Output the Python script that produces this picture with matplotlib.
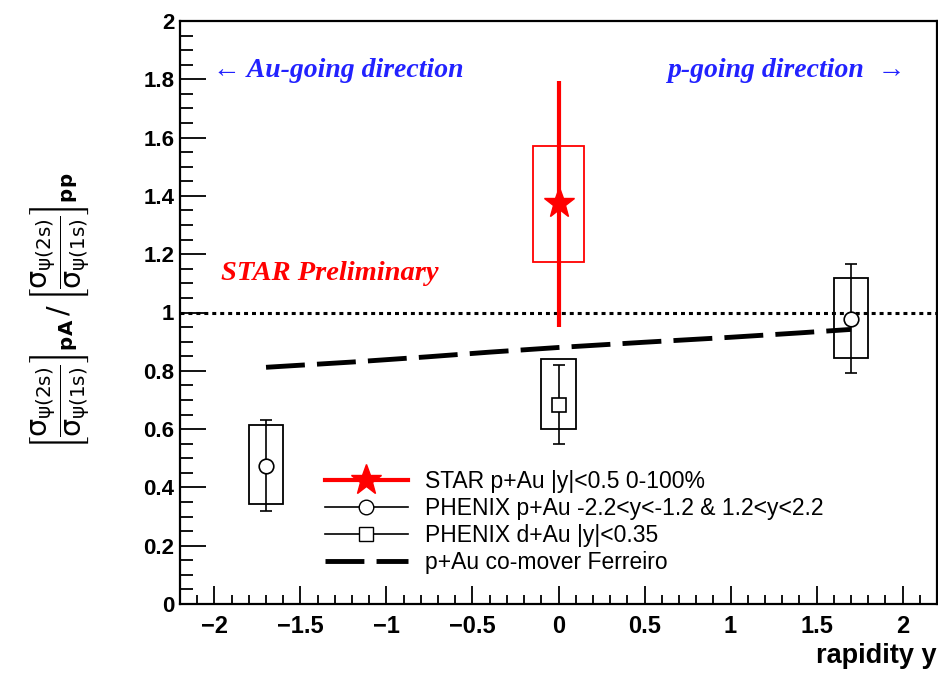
import matplotlib
matplotlib.use("Agg")
import matplotlib.pyplot as plt
from matplotlib.lines import Line2D
from matplotlib.ticker import MultipleLocator

# STAR p+Au |y|<0.5
star_x = [0.0]
star_val = [1.375]
star_stat_lo = [0.95]
star_stat_hi = [1.795]
star_sys_lo = [1.172]
star_sys_hi = [1.571]

# PHENIX p+Au forward/backward
pau_x = [-1.7, 1.7]
pau_val = [0.475, 0.978]
pau_stat_lo = [0.318, 0.791]
pau_stat_hi = [0.632, 1.165]
pau_sys_lo = [0.342, 0.845]
pau_sys_hi = [0.614, 1.117]

# PHENIX d+Au |y|<0.35
dau_x = [0.0]
dau_val = [0.681]
dau_stat_lo = [0.548]
dau_stat_hi = [0.82]
dau_sys_lo = [0.601]
dau_sys_hi = [0.839]

# co-mover model (Ferreiro)
model_x = [-1.7, -1.2, -0.76, -0.4, 0.0, 0.5, 1.0, 1.4, 1.7]
model_y = [0.812, 0.830, 0.848, 0.864, 0.880, 0.898, 0.915, 0.930, 0.942]

legend_labels = ["STAR p+Au |y|<0.5 0-100%",
                 "PHENIX p+Au -2.2<y<-1.2 & 1.2<y<2.2",
                 "PHENIX d+Au |y|<0.35",
                 "p+Au co-mover Ferreiro"]

plt.rcParams['font.family'] = ['Liberation Sans', 'DejaVu Sans']
plt.rcParams['mathtext.fontset'] = 'dejavusans'

fig = plt.figure(figsize=(9.38, 6.74), dpi=100)
ax = fig.add_axes([180 / 938, 70 / 674, 757 / 938, 583 / 674])


def err(val, lo, hi):
    return [[v - l for v, l in zip(val, lo)], [h - v for v, h in zip(val, hi)]]


def boxes(x, lo, hi, hw, color, lw):
    ax.bar(x, [h - l for l, h in zip(lo, hi)], bottom=lo, width=2 * hw,
           fill=False, edgecolor=color, linewidth=lw, zorder=2)


# reference line at 1
ax.axhline(1.0, color='black', linestyle=(0, (1.3, 1.3)), linewidth=2.2, zorder=1)

# model
ax.plot(model_x, model_y, color='black', linewidth=3.5, linestyle=(0, (8, 2.5)), zorder=3)

# systematic boxes
boxes(pau_x, pau_sys_lo, pau_sys_hi, 0.1, 'black', 1.3)
boxes(dau_x, dau_sys_lo, dau_sys_hi, 0.1, 'black', 1.3)
boxes(star_x, star_sys_lo, star_sys_hi, 0.15, 'red', 1.3)

# PHENIX points
ax.errorbar(pau_x, pau_val, yerr=err(pau_val, pau_stat_lo, pau_stat_hi), fmt='o',
            color='black', mfc='white', mec='black', ms=10.5, mew=1.2,
            elinewidth=1.2, capsize=4, capthick=1.2, zorder=4)
ax.errorbar(dau_x, dau_val, yerr=err(dau_val, dau_stat_lo, dau_stat_hi), fmt='s',
            color='black', mfc='white', mec='black', ms=9.5, mew=1.2,
            elinewidth=1.2, capsize=4, capthick=1.2, zorder=4)

# STAR point
ax.errorbar(star_x, star_val, yerr=err(star_val, star_stat_lo, star_stat_hi), fmt='*',
            color='red', ms=23, elinewidth=3, capsize=0, zorder=5)

ax.set_xlim(-2.2, 2.2)
ax.set_ylim(0, 2)
ax.xaxis.set_major_locator(MultipleLocator(0.5))
ax.xaxis.set_minor_locator(MultipleLocator(0.1))
ax.yaxis.set_major_locator(MultipleLocator(0.2))
ax.yaxis.set_minor_locator(MultipleLocator(0.05))
ax.tick_params(axis='both', which='both', direction='in', top=False, right=False, width=1.3)
ax.tick_params(axis='x', which='major', length=13, pad=8)
ax.tick_params(axis='x', which='minor', length=6.5)
ax.tick_params(axis='y', which='major', length=18.5, pad=4)
ax.tick_params(axis='y', which='minor', length=9.3)
ax.set_xticks([-2, -1.5, -1, -0.5, 0, 0.5, 1, 1.5, 2])
ax.set_xticklabels(['\u22122', '\u22121.5', '\u22121', '\u22120.5', '0', '0.5', '1', '1.5', '2'])
ax.set_yticks([0, 0.2, 0.4, 0.6, 0.8, 1, 1.2, 1.4, 1.6, 1.8, 2])
ax.set_yticklabels(['0', '0.2', '0.4', '0.6', '0.8', '1', '1.2', '1.4', '1.6', '1.8', '2'])
for lab in ax.get_xticklabels():
    lab.set_fontsize(17)
    lab.set_fontweight('bold')
for lab in ax.get_yticklabels():
    lab.set_fontsize(16)
    lab.set_fontweight('bold')
for sp in ax.spines.values():
    sp.set_linewidth(1.6)

# axis labels
fig.text(937 / 938, 1 - 663 / 674, 'rapidity y', ha='right', va='baseline',
         fontsize=19.5, fontweight='bold')
ylab = (r'$\left[\dfrac{\mathrm{\sigma}_{\mathrm{\psi(2s)}}}{\mathrm{\sigma}_{\mathrm{\psi(1s)}}}\right]_{\mathbf{pA}}'
        r'\,/\,\left[\dfrac{\mathrm{\sigma}_{\mathrm{\psi(2s)}}}{\mathrm{\sigma}_{\mathrm{\psi(1s)}}}\right]_{\mathbf{pp}}$')
fig.text(60 / 938, 1 - 311 / 674, ylab, rotation=90, ha='center', va='center', fontsize=20.5)

# annotations
serif = ['Liberation Serif', 'DejaVu Serif']
ax.text(-2.01, 1.83, '\u2190 Au-going direction', color='#2222ff', fontsize=20,
        fontweight='bold', fontstyle='italic', family=serif, va='center', ha='left')
ax.text(2.02, 1.83, 'p-going direction  \u2192', color='#2222ff', fontsize=20,
        fontweight='bold', fontstyle='italic', family=serif, va='center', ha='right')
ax.text(-1.96, 1.135, 'STAR Preliminary', color='red', fontsize=20.5,
        fontweight='bold', fontstyle='italic', family=serif, va='center', ha='left')

# legend
handles = [
    Line2D([], [], color='red', lw=3, marker='*', ms=23),
    Line2D([], [], color='black', lw=1.2, marker='o', mfc='white', mec='black', ms=10.5),
    Line2D([], [], color='black', lw=1.2, marker='s', mfc='white', mec='black', ms=9.5),
    Line2D([], [], color='black', lw=3.5, linestyle=(0, (8, 2.5))),
]
leg = ax.legend(handles, legend_labels, loc='upper left',
                bbox_to_anchor=((325 - 180) / 757, (604 - 470) / 583),
                frameon=False, fontsize=16.5, handlelength=3.6, handletextpad=0.75,
                labelspacing=0.18, borderaxespad=0, borderpad=0)

fig.savefig('out.png', dpi=100)
